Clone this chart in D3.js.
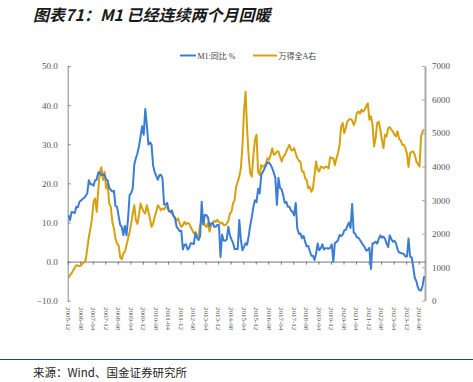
<!DOCTYPE html>
<html>
<head>
<meta charset="utf-8">
<script src="https://cdn.jsdelivr.net/npm/d3@7"></script>
<style>
  body { margin: 0; background: #fff; }
  svg { display: block; }
</style>
</head>
<body>
<div id="chart"></div>
<script>
// M1 yoy (%), monthly 2005-12 .. 2024-11
var m1 = [
  11.8,
  10.6, 12.7, 12.6, 12.4, 14.0, 13.9, 15.3, 15.6, 16.0, 16.3, 16.8, 17.5,
  20.8, 19.8, 19.8, 19.4, 20.8, 20.9, 22.8, 22.8, 22.1, 22.2, 22.2, 21.0,
  20.7, 18.9, 18.3, 17.9, 18.1, 14.2, 14.0, 11.6, 9.4, 8.9, 6.8, 9.1,
  6.7, 10.9, 17.0, 17.5, 18.7, 24.8, 26.4, 27.7, 29.5, 32.0, 34.6, 32.4,
  39.0, 34.9, 29.9, 30.5, 29.9, 24.6, 22.9, 21.9, 20.9, 22.1, 22.2, 21.2,
  14.6, 14.5, 15.0, 12.9, 12.7, 13.1, 11.6, 11.2, 8.9, 8.4, 7.8, 7.9,
  3.1, 4.3, 4.4, 3.1, 3.5, 4.7, 4.6, 4.5, 7.3, 6.1, 5.5, 6.5,
  15.3, 9.5, 11.9, 11.9, 11.3, 9.1, 9.7, 9.9, 8.9, 8.9, 9.4, 9.3,
  1.2, 6.9, 5.4, 5.3, 5.7, 8.9, 6.7, 5.7, 4.8, 3.2, 3.2, 3.2,
  10.6, 5.6, 2.9, 3.7, 4.7, 4.3, 6.6, 9.3, 11.4, 14.0, 15.7, 15.2,
  18.6, 17.4, 22.1, 22.9, 23.7, 24.6, 25.4, 25.3, 24.7, 23.9, 22.7, 21.4,
  14.5, 21.4, 18.8, 18.5, 17.0, 15.0, 15.3, 14.0, 14.0, 13.0, 12.7, 11.8,
  15.0, 8.5, 7.1, 7.2, 6.0, 6.6, 5.1, 3.9, 4.0, 2.7, 1.5, 1.5,
  0.4, 2.0, 4.6, 2.9, 3.4, 4.4, 3.1, 3.4, 3.4, 3.3, 3.5, 4.4,
  0.0, 4.8, 5.0, 5.5, 6.8, 6.5, 6.9, 8.0, 8.1, 9.1, 10.0, 8.6,
  14.7, 7.4, 7.1, 6.2, 6.1, 5.5, 4.9, 4.2, 3.7, 2.8, 3.0, 3.5,
  -1.9, 4.7, 4.7, 5.1, 4.6, 5.8, 6.7, 6.1, 6.4, 5.8, 4.6, 3.7,
  6.7, 5.8, 5.1, 5.3, 4.7, 3.1, 2.3, 2.2, 2.1, 1.9, 1.3, 1.3,
  5.9, 1.2, 1.1, -1.4, -4.2, -5.0, -6.6, -7.3, -7.4, -6.1, -3.7
];

// Wind All A index (right axis), same months
var windA = [
  680,
  760, 820, 900, 980, 1060, 1050, 1030, 1050, 1110, 1150, 1220, 1550,
  1900, 2150, 2450, 2950, 3050, 2650, 3300, 3850, 3980, 3600, 3850, 3350,
  3500, 2900, 2800, 2350, 2150, 1850, 1700, 1650, 1300, 1240, 1420, 1460,
  1650, 1850, 2050, 2300, 2600, 2850, 2400, 2290, 2550, 2900, 2760, 2650,
  2600, 2850, 2650, 2450, 2200, 2300, 2500, 2650, 2850, 2780, 2700, 2750,
  2720, 2800, 2780, 2700, 2650, 2600, 2550, 2450, 2400, 2450, 2300, 2200,
  2250, 2350, 2280, 2320, 2300, 2200, 2100, 2010, 2050, 1950, 1910, 2250,
  2400, 2420, 2250, 2200, 2320, 2060, 2250, 2320, 2380, 2350, 2410, 2350,
  2300, 2330, 2260, 2250, 2300, 2380, 2600, 2650, 2900, 3000, 3400, 3550,
  3700, 3950, 4600, 5650, 6230, 5100, 4300, 3800, 3700, 4350, 4800, 4950,
  3850, 3750, 4050, 4000, 4000, 4100, 4250, 4200, 4350, 4550, 4350, 4380,
  4450, 4450, 4300, 4150, 4280, 4350, 4450, 4550, 4650, 4500, 4480, 4550,
  4400, 4250, 4180, 4150, 3850, 3850, 3650, 3600, 3350, 3400, 3250, 3350,
  3750, 4150, 3900, 3850, 4000, 3980, 3950, 4000, 3990, 3950, 4280, 4250,
  4250, 4050, 4250, 4400, 4650, 5200, 5300, 5000, 5150, 5350, 5400, 5420,
  5380, 5240, 5350, 5600, 5640, 5580, 5700, 5640, 5700, 5800, 5890, 5400,
  5500, 5250, 4600, 4850, 5300, 5340, 5100, 4800, 4550, 4950, 4900, 5150,
  5180, 5100, 5050, 4950, 4900, 5050, 4820, 4780, 4650, 4650, 4550, 4380,
  3990, 4400, 4440, 4450, 4350, 4150, 4080, 4000, 4900, 5050, 5100
];

var xLabels = ["2005-12","2006-08","2007-04","2007-12","2008-08","2009-04","2009-12",
  "2010-08","2011-04","2011-12","2012-08","2013-04","2013-12","2014-08","2015-04",
  "2015-12","2016-08","2017-04","2017-12","2018-08","2019-04","2019-12","2020-08",
  "2021-04","2021-12","2022-08","2023-04","2023-12","2024-08"];
var leftTicks = [-10, 0, 10, 20, 30, 40, 50];
var rightTicks = [0, 1000, 2000, 3000, 4000, 5000, 6000, 7000];
var seriesNames = ["M1:同比 %", "万得全A右"];

var W = 473, H = 382;
var blue = "#3b7dd3", gold = "#d7a00f";
var serif = "'Liberation Serif','Times New Roman',serif";

var svg = d3.select("#chart").append("svg").attr("width", W).attr("height", H)
  .style("background", "#fff");

// title
svg.append("text").attr("x", 33).attr("y", 21)
  .attr("font-family", "'Noto Sans CJK SC',sans-serif")
  .attr("font-size", 16).attr("font-weight", "bold").attr("font-style", "italic")
  .attr("fill", "#1a1a1a")
  .text("图表71：M1 已经连续两个月回暖");

var n = m1.length;
var x = d3.scaleLinear().domain([-0.5, n - 0.5]).range([67.7, 425]);
var yL = d3.scaleLinear().domain([-10, 50]).range([300.7, 66]);
var yR = d3.scaleLinear().domain([0, 7000]).range([300.7, 66]);

// left axis
var gL = svg.append("g").attr("transform", "translate(67.7,0)")
  .call(d3.axisLeft(yL).tickValues(leftTicks).tickFormat(d3.format(".1f"))
    .tickSizeInner(-3).tickSizeOuter(0).tickPadding(10));
gL.select(".domain").attr("stroke", "#888");
gL.selectAll(".tick line").attr("stroke", "#888");
gL.selectAll("text").attr("font-family", serif).attr("font-size", 9).attr("fill", "#555");

// right axis
var gR = svg.append("g").attr("transform", "translate(425,0)")
  .call(d3.axisRight(yR).tickValues(rightTicks).tickFormat(d3.format("d"))
    .tickSizeInner(-3).tickSizeOuter(0).tickPadding(7));
gR.select(".domain").attr("stroke", "#aaa").attr("stroke-width", 2);
gR.selectAll(".tick line").attr("stroke", "#aaa");
gR.selectAll("text").attr("font-family", serif).attr("font-size", 9).attr("fill", "#555");

// x axis at zero
var bounds = d3.range(0, xLabels.length).map(function(k) { return k * 8 - 0.5; });
var gX = svg.append("g").attr("transform", "translate(0," + yL(0) + ")")
  .call(d3.axisBottom(x).tickValues(bounds).tickFormat("").tickSizeInner(3).tickSizeOuter(0));
gX.select(".domain").attr("stroke", "#777");
gX.selectAll(".tick line").attr("stroke", "#777");

svg.append("g").selectAll("text").data(xLabels).enter().append("text")
  .attr("transform", function(d, k) { return "translate(" + x(k * 8) + ",307) rotate(90)"; })
  .attr("dy", "0.35em")
  .attr("font-family", serif).attr("font-size", 7).attr("fill", "#555")
  .text(function(d) { return d; });

// lines
var lineL = d3.line().x(function(d, i) { return x(i); }).y(function(d) { return yL(d); });
var lineR = d3.line().x(function(d, i) { return x(i); }).y(function(d) { return yR(d); });

svg.append("path").datum(windA).attr("d", lineR)
  .attr("fill", "none").attr("stroke", gold).attr("stroke-width", 2).attr("stroke-linejoin", "round");
svg.append("path").datum(m1).attr("d", lineL)
  .attr("fill", "none").attr("stroke", blue).attr("stroke-width", 2).attr("stroke-linejoin", "round");

// legend
var leg = [
  { name: seriesNames[0], color: blue, x1: 180, x2: 196 },
  { name: seriesNames[1], color: gold, x1: 253, x2: 277 }
];
var lg = svg.append("g").selectAll("g").data(leg).enter().append("g");
lg.append("line").attr("x1", function(d) { return d.x1; }).attr("x2", function(d) { return d.x2; })
  .attr("y1", 55.5).attr("y2", 55.5).attr("stroke", function(d) { return d.color; }).attr("stroke-width", 2);
lg.append("text").attr("x", function(d) { return d.x2 + 1.5; }).attr("y", 58.5)
  .attr("font-family", "'Liberation Serif','Noto Sans CJK SC',serif").attr("font-size", 8).attr("fill", "#444")
  .text(function(d) { return d.name; });

// footer
svg.append("line").attr("x1", 0).attr("x2", W).attr("y1", 359.5).attr("y2", 359.5)
  .attr("stroke", "#1f4e5f").attr("stroke-width", 1);
svg.append("text").attr("x", 33).attr("y", 377)
  .attr("font-family", "'Noto Sans CJK SC',sans-serif").attr("font-size", 11.5).attr("fill", "#222")
  .text("来源：Wind、国金证券研究所");
</script>
</body>
</html>
